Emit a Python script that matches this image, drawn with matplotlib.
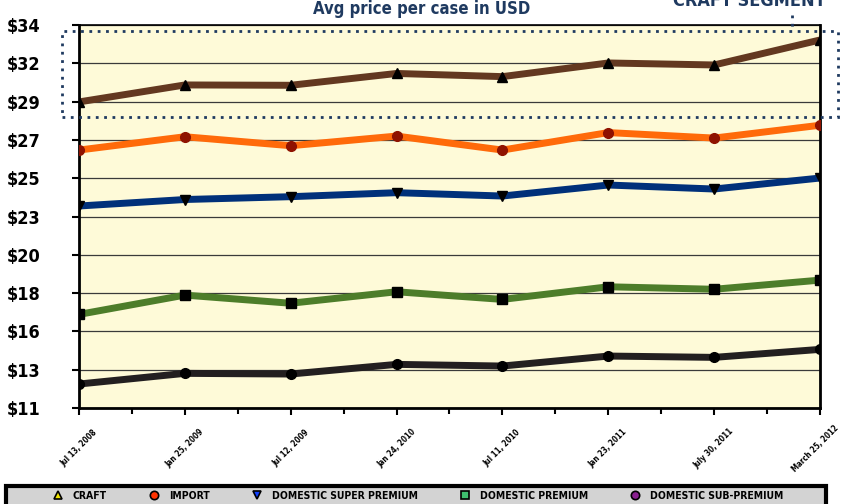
import matplotlib.pyplot as plt
from matplotlib.lines import Line2D
from matplotlib.patches import Rectangle
from matplotlib.transforms import ScaledTranslation

dates = ["Jul 13, 2008", "Jan 25, 2009", "Jul 12, 2009", "Jan 24, 2010",
         "Jul 11, 2010", "Jan 23, 2011", "July 30, 2011", "March 25, 2012"]

craft = [29.38, 30.40, 30.38, 31.09, 30.90, 31.72, 31.60, 33.10]
imprt = [26.49, 27.29, 26.75, 27.33, 26.49, 27.54, 27.21, 27.98]
super_premium = [23.13, 23.52, 23.69, 23.93, 23.73, 24.39, 24.15, 24.81]
premium = [16.62, 17.78, 17.29, 17.98, 17.52, 18.28, 18.13, 18.68]
sub_premium = [12.44, 13.08, 13.04, 13.62, 13.52, 14.12, 14.04, 14.52]

yticks = [11, 13.3, 15.6, 17.9, 20.2, 22.5, 24.8, 27.1, 29.4, 31.7, 34]
ylabels = ["$11", "$13", "$16", "$18", "$20", "$23", "$25", "$27", "$29", "$32", "$34"]

series = [
    ("CRAFT", craft, "#633820", "^", "black", "#f2e600"),
    ("IMPORT", imprt, "#ff6a0a", "o", "#8f1200", "#ff3300"),
    ("DOMESTIC SUPER PREMIUM", super_premium, "#00307a", "v", "black", "#1040ff"),
    ("DOMESTIC PREMIUM", premium, "#4d7d2a", "s", "black", "#3fbf6f"),
    ("DOMESTIC SUB-PREMIUM", sub_premium, "#231f20", "o", "black", "#8a2090"),
]

navy = "#1f3a60"

fig = plt.figure(figsize=(8.41, 5.04), dpi=100)
ax = fig.add_axes([79 / 841, 1 - 408 / 504, (820 - 79) / 841, (408 - 25) / 504])
ax.set_facecolor("#fefad8")

x = list(range(len(dates)))
for name, vals, col, mk, mcol, lcol in series:
    ax.plot(x, vals, color=col, lw=5, zorder=3, solid_joinstyle="miter")
    ax.plot(x, vals, ls="none", marker=mk, ms=7, color=mcol, zorder=4)

ax.set_xlim(0, len(dates) - 1)
ax.set_ylim(11, 34)
ax.set_yticks(yticks)
ax.set_yticklabels(ylabels, fontweight="bold", fontsize=13, fontstretch="condensed")
ax.set_xticks(x)
ax.set_xticks([i + 0.5 for i in x[:-1]], minor=True)
ax.set_xticklabels(dates, rotation=45, ha="center", va="center", rotation_mode="anchor",
                   fontsize=5.7, fontweight="bold", fontstretch="condensed")
ax.tick_params(axis="both", which="both", direction="out", color="black", width=1.5)
ax.tick_params(axis="y", length=5, pad=23)
ax.tick_params(axis="x", which="major", length=5, pad=24)
ax.tick_params(axis="x", which="minor", length=4)
ax.grid(axis="y", color="#3a3a3a", lw=0.9, zorder=1)
for sp in ["left", "right", "bottom"]:
    ax.spines[sp].set_linewidth(2)
ax.spines["top"].set_linewidth(1.2)
# nudge the last date label so it stays inside the picture
last = ax.get_xticklabels()[-1]
last.set_transform(last.get_transform() + ScaledTranslation(-5 / 100, 0, fig.dpi_scale_trans))

fig.text(422 / 841, 1 - 9 / 504, "Avg price per case in USD", ha="center", va="center",
         fontweight="bold", fontsize=12, color=navy, fontstretch="condensed")
fig.text(749 / 841, 1 - 6 / 504, "CRAFT SEGMENT", ha="center", va="baseline",
         fontweight="bold", fontsize=13, color=navy, fontstretch="condensed")

# dotted box around the craft line
fig.patches.append(Rectangle((62 / 841, 1 - 117 / 504), (838 - 62) / 841, (117 - 31) / 504,
                             transform=fig.transFigure, fill=False, ec=navy, lw=2,
                             ls=(0, (1, 2)), zorder=5))
fig.add_artist(Line2D([792 / 841, 792 / 841], [1 - 15 / 504, 1 - 31 / 504],
                      transform=fig.transFigure, color=navy, lw=2, ls=(0, (1, 2))))

# legend strip at the bottom
fig.patches.append(Rectangle((6 / 841, 1 - 510 / 504), 820 / 841, 24 / 504,
                             transform=fig.transFigure, fc="#d3d3d3", ec="black", lw=3))
handles = [Line2D([], [], ls="none", marker=mk, ms=6, mfc=lcol, mec="black", mew=1.2)
           for name, vals, col, mk, mcol, lcol in series]
fig.legend(handles, [s[0] for s in series], loc="center", ncol=5, frameon=False,
           bbox_to_anchor=(418 / 841, 1 - 496 / 504),
           prop={"weight": "bold", "size": 7.5, "stretch": "condensed"},
           columnspacing=4.0, handletextpad=0.95, handlelength=1)

fig.savefig("out.png", dpi=100)
